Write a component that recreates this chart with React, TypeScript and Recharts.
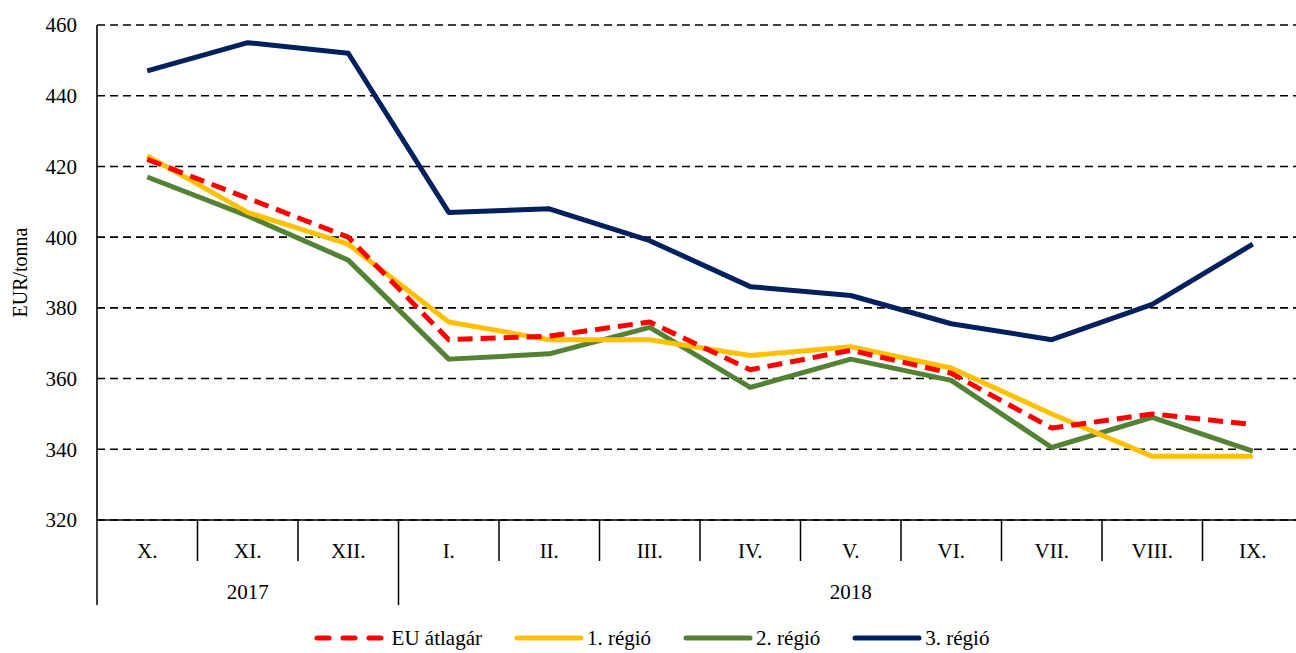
import { CartesianGrid, Legend, Line, LineChart, XAxis, YAxis } from "recharts";

const months = ["X.", "XI.", "XII.", "I.", "II.", "III.", "IV.", "V.", "VI.", "VII.", "VIII.", "IX."];
const years = ["2017", "2018"];
const monthsPerYear = [3, 9];

const euAverage = [422, 411, 400, 371, 372, 376, 362.5, 368, 361.5, 346, 350, 347];
const region1 = [423, 407, 398, 376, 371, 371, 366.5, 369, 363, 350, 338, 338];
const region2 = [417, 406, 393.5, 365.5, 367, 374.5, 357.5, 365.5, 359.5, 340.5, 349, 339.5];
const region3 = [447, 455, 452, 407, 408, 399, 386, 383.5, 375.5, 371, 381, 398];

const yTicks = [320, 340, 360, 380, 400, 420, 440, 460];

const series = [
  { key: "eu", name: "EU átlagár", color: "#FF0000", dash: "15 8" },
  { key: "r1", name: "1. régió", color: "#FFC000" },
  { key: "r2", name: "2. régió", color: "#548235" },
  { key: "r3", name: "3. régió", color: "#002060" },
];

const rows = months.map((month, i) => ({
  month,
  eu: euAverage[i],
  r1: region1[i],
  r2: region2[i],
  r3: region3[i],
}));

const FONT = "'Liberation Serif', 'Times New Roman', serif";
const WIDTH = 1308;
const HEIGHT = 653;
const Y_AXIS_W = 97;
const RIGHT = 5;
const BAND = (WIDTH - Y_AXIS_W - RIGHT) / months.length;

// first month index of each year
const yearStarts = monthsPerYear.map((_, k) => monthsPerYear.slice(0, k).reduce((a, b) => a + b, 0));

function MonthTick(props: any) {
  const { x, y, payload, index } = props;
  const left = x - BAND / 2;
  const k = yearStarts.indexOf(index);
  const isLast = index === months.length - 1;
  return (
    <g>
      <line x1={left} x2={left} y1={y} y2={y + (k >= 0 ? 85 : 41)} stroke="#000" strokeWidth={1.5} />
      {isLast && <line x1={left + BAND} x2={left + BAND} y1={y} y2={y + 85} stroke="#000" strokeWidth={1.5} />}
      <text x={x} y={y + 38} textAnchor="middle" fontFamily={FONT} fontSize={21} fill="#000">
        {payload.value}
      </text>
      {k >= 0 && (
        <text x={left + (monthsPerYear[k] * BAND) / 2} y={y + 79} textAnchor="middle" fontFamily={FONT} fontSize={21} fill="#000">
          {years[k]}
        </text>
      )}
    </g>
  );
}

function LegendRow() {
  return (
    <div style={{ display: "flex", justifyContent: "center", alignItems: "center", height: 30, fontFamily: FONT, fontSize: 21, color: "#000" }}>
      {series.map((s, i) => (
        <div key={s.key} style={{ display: "flex", alignItems: "center", marginRight: i < series.length - 1 ? 32 : 0 }}>
          <svg width={70} height={10}>
            <line x1={3} x2={67} y1={5} y2={5} stroke={s.color} strokeWidth={5} strokeLinecap="round" strokeDasharray={s.dash ? "12 14" : undefined} />
          </svg>
          <span style={{ marginLeft: s.dash ? 8 : 3 }}>{s.name}</span>
        </div>
      ))}
    </div>
  );
}

export default function App() {
  const drawOrder = [series[3], series[2], series[1], series[0]];
  return (
    <div style={{ position: "fixed", left: 0, top: 0, width: 1296, height: 653, overflow: "hidden", background: "#fff", fontFamily: FONT }}>
      <LineChart width={WIDTH} height={HEIGHT} data={rows} margin={{ top: 25, right: RIGHT, bottom: 0, left: 0 }}>
        <CartesianGrid vertical={false} stroke="#000" strokeWidth={1.6} strokeDasharray="8 5" />
        <XAxis
          dataKey="month"
          scale="band"
          interval={0}
          height={103}
          tickLine={false}
          tickSize={0}
          tickMargin={0}
          axisLine={{ stroke: "#000", strokeWidth: 1.6 }}
          tick={<MonthTick />}
        />
        <YAxis
          width={Y_AXIS_W}
          domain={[320, 460]}
          ticks={yTicks}
          interval={0}
          tickLine={false}
          tickSize={12}
          tickMargin={8}
          axisLine={{ stroke: "#000", strokeWidth: 1.6 }}
          tick={{ fill: "#000", fontFamily: FONT, fontSize: 21 }}
          label={({ viewBox }: any) => (
            <text
              x={22}
              y={viewBox.y + viewBox.height / 2}
              transform={`rotate(-90 22 ${viewBox.y + viewBox.height / 2})`}
              textAnchor="middle"
              dominantBaseline="middle"
              fontFamily={FONT}
              fontSize={20}
              fill="#000"
            >
              EUR/tonna
            </text>
          )}
        />
        <Legend verticalAlign="bottom" height={30} content={() => <LegendRow />} />
        {drawOrder.map((s) => (
          <Line
            key={s.key}
            type="linear"
            dataKey={s.key}
            name={s.name}
            stroke={s.color}
            strokeWidth={5}
            strokeDasharray={s.dash}
            strokeLinejoin="round"
            dot={false}
            activeDot={false}
            isAnimationActive={false}
          />
        ))}
      </LineChart>
    </div>
  );
}
